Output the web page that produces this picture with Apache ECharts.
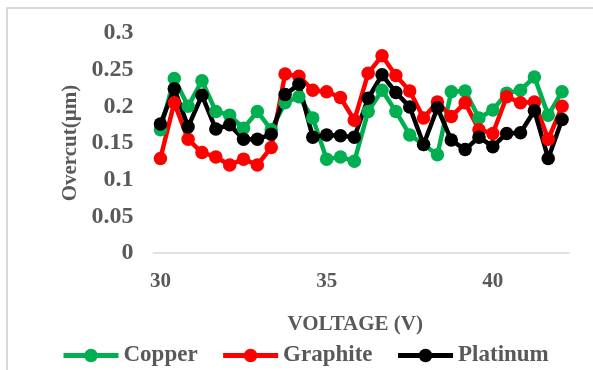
<!DOCTYPE html>
<html>
<head>
<meta charset="utf-8">
<script src="https://cdn.jsdelivr.net/npm/echarts@6/dist/echarts.min.js"></script>
<style>
html,body{margin:0;padding:0;background:#fff;}
#chart{width:593px;height:370px;}
</style>
</head>
<body>
<div id="chart"></div>
<script>
var voltages = ['30','30.42','30.83','31.25','31.67','32.08','32.5','32.92','33.33','33.75','34.17','34.58',
  '35','35.42','35.83','36.25','36.67','37.08','37.5','37.92','38.33','38.75','39.17','39.58',
  '40','40.42','40.83','41.25','41.67','42.08'];
var copper = [0.168,0.238,0.200,0.235,0.193,0.188,0.170,0.193,0.168,0.205,0.213,0.184,
  0.128,0.131,0.125,0.193,0.222,0.193,0.161,0.148,0.134,0.220,0.221,0.184,
  0.195,0.218,0.222,0.240,0.188,0.220];
var graphite = [0.129,0.205,0.155,0.137,0.131,0.120,0.128,0.120,0.144,0.244,0.241,0.222,
  0.220,0.212,0.181,0.245,0.269,0.242,0.221,0.184,0.206,0.186,0.205,0.168,
  0.163,0.213,0.205,0.206,0.155,0.200];
var platinum = [0.176,0.224,0.172,0.215,0.169,0.175,0.155,0.155,0.162,0.216,0.230,0.158,
  0.161,0.160,0.158,0.211,0.243,0.219,0.199,0.148,0.198,0.154,0.141,0.158,
  0.145,0.163,0.164,0.194,0.129,0.182];
var yTicks = {min:0, max:0.3, interval:0.05};

var txt = '#595959';
var font = 'Liberation Serif';
var colors = {Copper:'#00B050', Graphite:'#FF0000', Platinum:'#000000'};
var chart = echarts.init(document.getElementById('chart'), null, {renderer:'canvas'});
function mk(name, data){
  var c = colors[name];
  return {
    name:name, type:'line', data:data,
    symbol:'circle', symbolSize:13.5, showAllSymbol:true,
    itemStyle:{color:c},
    lineStyle:{color:c, width:4.5},
    animation:false
  };
}
function leg(name){
  return {name:name, itemStyle:{color:colors[name]}, lineStyle:{color:colors[name], width:5}};
}
chart.setOption({
  animation:false,
  graphic:[{type:'rect', shape:{x:7,y:8,width:700,height:500},
    style:{fill:'none', stroke:'#d9d9d9', lineWidth:2}, silent:true}],
  grid:{left:153.5, right:24, top:33, bottom:117},
  legend:{
    left:56, top:339, itemWidth:55, itemHeight:17, itemGap:23,
    textStyle:{color:txt, fontFamily:font, fontWeight:'bold', fontSize:23},
    data:[leg('Copper'), leg('Graphite'), leg('Platinum')]
  },
  xAxis:{
    type:'category', data:voltages, boundaryGap:true,
    axisTick:{show:false},
    axisLine:{lineStyle:{color:'#d9d9d9', width:1.5}},
    axisLabel:{interval:11, margin:18, color:txt, fontFamily:font, fontWeight:'bold', fontSize:21,
      formatter:function(v){return String(Math.round(parseFloat(v)));}},
    name:'VOLTAGE (V)', nameLocation:'middle', nameGap:61,
    nameTextStyle:{color:txt, fontFamily:font, fontWeight:'bold', fontSize:21, padding:[0,12,0,0]}
  },
  yAxis:{
    type:'value', min:yTicks.min, max:yTicks.max, interval:yTicks.interval,
    splitLine:{show:false}, axisLine:{show:false}, axisTick:{show:false},
    axisLabel:{margin:20, color:txt, fontFamily:font, fontWeight:'bold', fontSize:24},
    name:'Overcut(µm)', nameLocation:'middle', nameGap:71, nameRotate:90,
    nameTextStyle:{color:txt, fontFamily:font, fontWeight:'bold', fontSize:21}
  },
  series:[mk('Copper',copper), mk('Graphite',graphite), mk('Platinum',platinum)]
});
</script>
</body>
</html>
